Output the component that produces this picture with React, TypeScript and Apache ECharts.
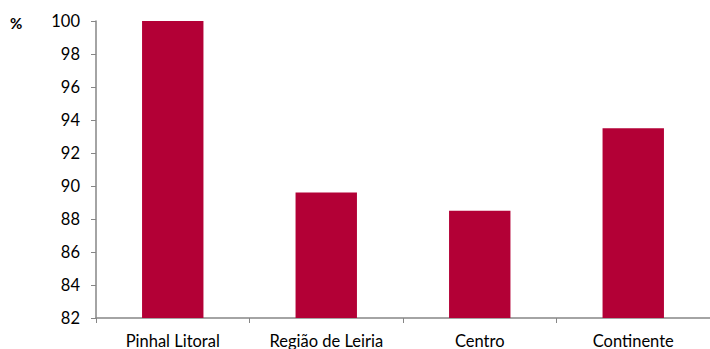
import React, { useEffect, useRef } from "react";
import * as echarts from "echarts";

const categories = ["Pinhal Litoral", "Região de Leiria", "Centro", "Continente"];
const values = [100, 89.6, 88.5, 93.5];
const yMin = 82;
const yMax = 100;
const yInterval = 2;

export default function App() {
  const ref = useRef<HTMLDivElement>(null);
  useEffect(() => {
    if (!ref.current) return;
    const chart = echarts.init(ref.current, null, { renderer: "svg" });
    chart.setOption({
      animation: false,
      grid: { left: 96, top: 21, width: 616, height: 298, containLabel: false },
      graphic: [
        {
          type: "text",
          left: 10,
          top: 15,
          style: { text: "%", font: "bold 15px Lato", fill: "#000" },
        },
      ],
      xAxis: {
        type: "category",
        data: categories,
        axisLine: { lineStyle: { color: "#868686", width: 1.5 } },
        axisTick: { show: true, length: 5, lineStyle: { color: "#868686" } },
        axisLabel: { color: "#000", fontFamily: "Lato", fontSize: 16.5, margin: 14 },
      },
      yAxis: {
        type: "value",
        min: yMin,
        max: yMax,
        interval: yInterval,
        splitLine: { show: false },
        axisLine: { show: true, lineStyle: { color: "#868686", width: 1.5 } },
        axisTick: { show: true, length: 5, lineStyle: { color: "#868686" } },
        axisLabel: { color: "#000", fontFamily: "Lato", fontSize: 16.5, margin: 16 },
      },
      series: [
        {
          type: "bar",
          data: values,
          barWidth: "40%",
          itemStyle: { color: "#b30036" },
        },
      ],
    });
    return () => chart.dispose();
  }, []);
  return (
    <div
      ref={ref}
      style={{ position: "fixed", left: 0, top: 0, width: 710, height: 349, background: "#fff" }}
    />
  );
}
